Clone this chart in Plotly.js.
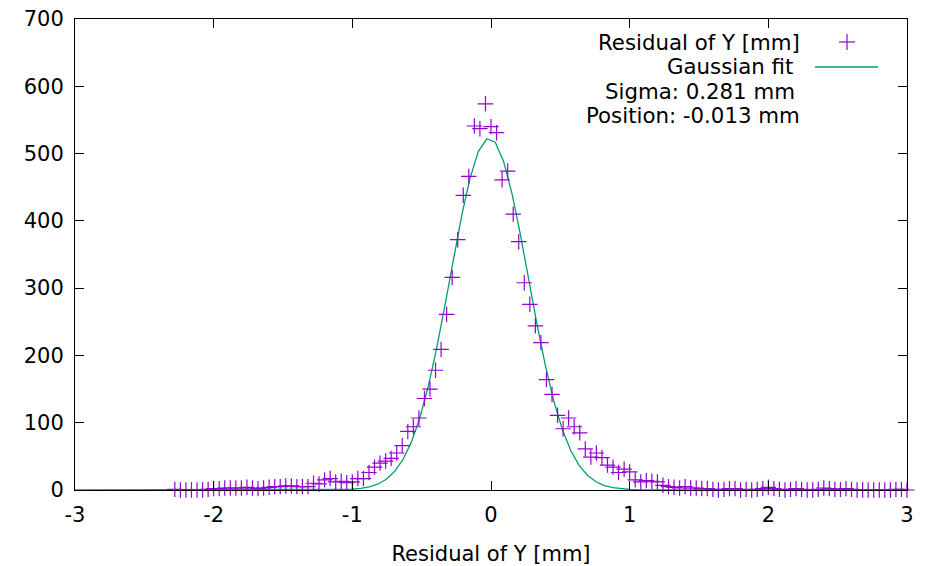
<!DOCTYPE html>
<html>
<head>
<meta charset="utf-8">
<script src="https://cdn.plot.ly/plotly-3.0.1.min.js"></script>
<style>html,body{margin:0;padding:0;background:#fff;}#chart{width:925px;height:566px;}</style>
</head>
<body>
<div id="chart"></div>
<script>
// Histogram of residuals (bin centres, counts)
const binX = [
  -2.28,-2.24,-2.20,-2.16,-2.12,-2.08,-2.04,-2.00,-1.96,-1.92,-1.88,-1.84,-1.80,-1.76,-1.72,-1.68,-1.64,-1.60,-1.56,-1.52,-1.48,-1.44,-1.40,-1.36,-1.32,
  -1.28,-1.24,-1.20,-1.16,-1.12,-1.08,-1.04,-1.00,-0.96,-0.92,-0.88,-0.84,-0.80,-0.76,-0.72,-0.68,-0.64,-0.60,-0.56,-0.52,-0.48,-0.44,-0.40,-0.36,-0.32,-0.28,
  -0.24,-0.20,-0.16,-0.12,-0.08,-0.04,0.00,0.04,0.08,0.12,0.16,0.20,0.24,0.28,0.32,0.36,0.40,0.44,0.48,0.52,0.56,0.60,0.64,0.68,0.72,0.76,0.80,0.84,0.88,0.92,0.96,1.00,
  1.04,1.08,1.12,1.16,1.20,1.24,1.28,1.32,1.36,1.40,1.44,1.48,1.52,1.56,1.60,1.64,1.68,1.72,1.76,1.80,1.84,1.88,1.92,1.96,2.00,2.04,2.08,2.12,2.16,2.20,2.24,2.28,2.32,2.36,2.40,2.44,2.48,2.52,2.56,2.60,2.64,2.68,2.72,2.76,2.80,2.84,2.88,2.92,2.96,3.00
];
const binCounts = [
  1,0,0,0,0,0,1,2,2,3,3,3,3,4,3,2,3,4,5,5,6,6,5,5,5,
  10,9,15,17,12,13,11,12,17,17,26,34,40,43,47,55,66,87,94,107,136,150,178,209,261,316,
  372,438,466,541,537,574,540,531,461,474,410,369,308,276,244,219,164,142,111,91,107,94,85,61,49,55,48,37,34,26,31,27,
  15,12,14,13,12,7,5,4,3,5,3,3,2,2,1,0,1,2,2,0,1,0,1,2,4,2,1,0,1,2,1,0,0,1,3,2,1,1,2,1,0,0,0,0,0,0,0,1,1,0
];

const fitX = [-3.0,-1.3030,-1.2424,-1.1818,-1.1212,-1.0606,-1.0,-0.9394,-0.8788,-0.8182,-0.7576,-0.6970,-0.6364,-0.5758,-0.5152,-0.4545,-0.3939,-0.3333,-0.2727,-0.2121,-0.1515,-0.0909,-0.0303,0.0303,0.0909,0.1515,0.2121,0.2727,0.3333,0.3939,0.4545,0.5152,0.5758,0.6364,0.6970,0.7576,0.8182,0.8788,0.9394,1.0,1.0606,1.1212,1.1818,1.2424,1.3030,3.0];
const fitY = [0,0.01,0.04,0.09,0.22,0.5,1.1,2.3,4.5,8.6,15.6,27.0,44.6,70.4,105.9,152.3,208.7,273.1,341.2,406.9,463.2,503.3,522.0,516.8,488.4,440.6,379.4,311.9,244.8,183.3,131.1,89.4,58.2,36.2,21.5,12.2,6.6,3.4,1.7,0.8,0.35,0.15,0.06,0.02,0.01,0];

const xTickVals = [-3,-2,-1,0,1,2,3];
const xTickText = ['-3','-2','-1','0','1','2','3'];
const yTickVals = [0,100,200,300,400,500,600,700];
const yTickText = ['0','100','200','300','400','500','600','700'];

const legendLabels = ['Residual of Y [mm]','Gaussian fit','Sigma: 0.281 mm','Position: -0.013 mm'];
const xTitle = 'Residual of Y [mm]';

const PURPLE = '#9400D3', GREEN = '#009E73';
const FONT = 'DejaVu Sans, sans-serif';
const W = 925, H = 566, ML = 75, MR = 18, MT = 19, MB = 76;
const PW = W - ML - MR, PH = H - MT - MB;
const px = v => (v - ML) / PW;
const py = v => (H - MB - v) / PH;

const traces = [
  {
    x: fitX, y: fitY, type: 'scatter', mode: 'lines',
    line: {color: GREEN, width: 1.3}, cliponaxis: false, showlegend: false, hoverinfo: 'skip'
  },
  {
    x: binX, y: binCounts, type: 'scatter', mode: 'markers',
    marker: {symbol: 'cross-thin-open', size: 11, color: PURPLE, line: {color: PURPLE, width: 1.2}},
    cliponaxis: false, showlegend: false
  }
];

const rowY = [42, 67, 92, 116];
const rowRight = [802, 795, 797, 802];
const annotations = legendLabels.map((t, i) => ({
  text: t, xref: 'paper', yref: 'paper', x: px(rowRight[i]), y: py(rowY[i]),
  xanchor: 'right', yanchor: 'middle', showarrow: false,
  font: {family: FONT, size: 21.3, color: '#000'}
}));

const shapes = [
  {type: 'line', xref: 'paper', yref: 'paper', x0: px(815), x1: px(878), y0: py(rowY[1]), y1: py(rowY[1]), line: {color: GREEN, width: 1.3}},
  {type: 'line', xref: 'paper', yref: 'paper', x0: px(839), x1: px(855), y0: py(rowY[0]), y1: py(rowY[0]), line: {color: PURPLE, width: 1.2}},
  {type: 'line', xref: 'paper', yref: 'paper', x0: px(847), x1: px(847), y0: py(rowY[0] - 8), y1: py(rowY[0] + 8), line: {color: PURPLE, width: 1.2}}
];

const axisCommon = {
  showgrid: false, zeroline: false, showline: true, linecolor: '#000', linewidth: 1,
  mirror: 'ticks', ticks: 'inside', ticklen: 9, tickwidth: 1, tickcolor: '#000',
  tickfont: {family: FONT, size: 21, color: '#000'}
};

const layout = {
  width: W, height: H,
  margin: {l: ML, r: MR, t: MT, b: MB, pad: 0},
  paper_bgcolor: '#fff', plot_bgcolor: '#fff',
  showlegend: false,
  xaxis: Object.assign({}, axisCommon, {
    range: [-3, 3], tickvals: xTickVals, ticktext: xTickText, ticklabelstandoff: 6,
    title: {text: xTitle, font: {family: FONT, size: 21, color: '#000'}, standoff: 20}
  }),
  yaxis: Object.assign({}, axisCommon, {
    range: [0, 700], tickvals: yTickVals, ticktext: yTickText, ticklabelstandoff: 6
  }),
  annotations: annotations,
  shapes: shapes
};

Plotly.newPlot('chart', traces, layout, {displayModeBar: false, staticPlot: true});
</script>
</body>
</html>
